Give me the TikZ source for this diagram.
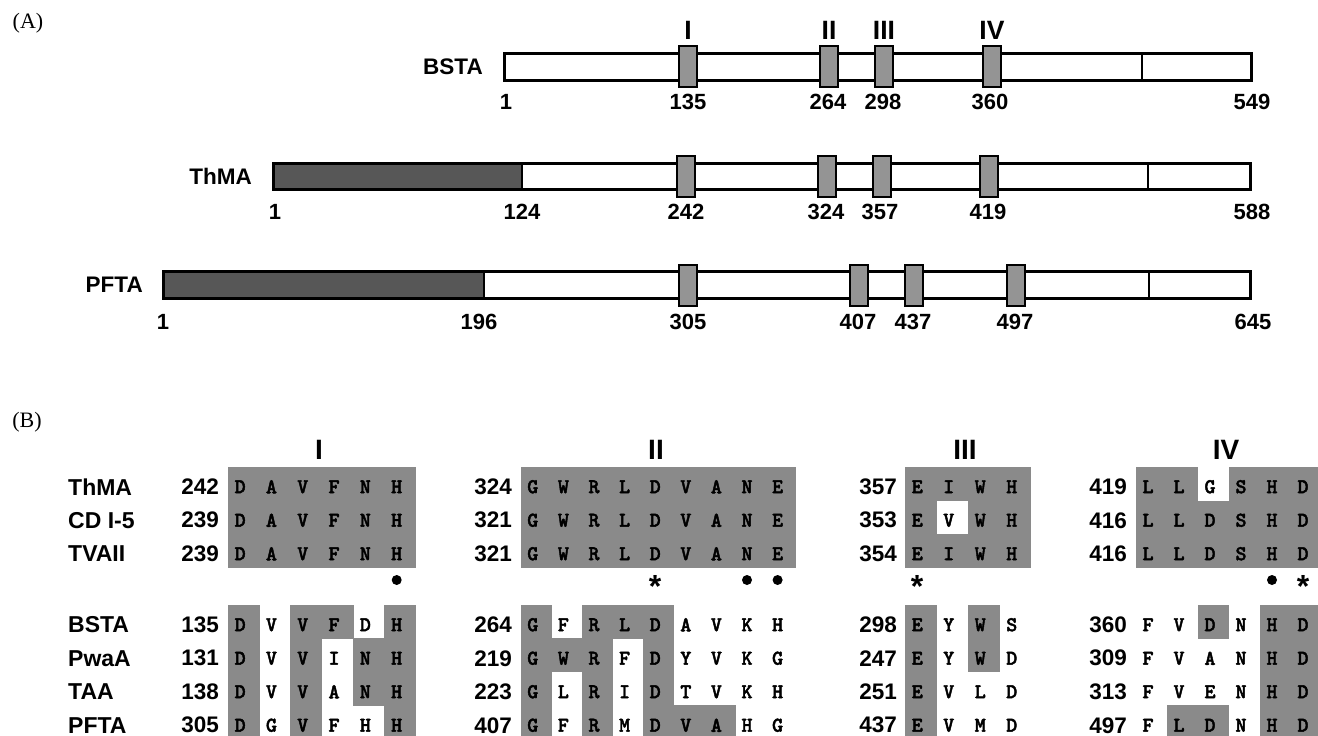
\documentclass[tikz,border=0pt]{standalone}
\usepackage{fontspec}
\setmainfont{Liberation Serif}
\setsansfont{Liberation Sans}
\newfontfamily\resfont{lmmonolt10-bold.otf}[FakeBold=2]
\definecolor{motifgray}{gray}{0.58}
\definecolor{darkfill}{gray}{0.34}
\definecolor{shadegray}{gray}{0.54}
\newcommand\fs[1]{\fontsize{#1}{#1}\selectfont}
% left, top, c1, c2, r1, r2 (uses \cw)
\newcommand\shadecells[6]{%
  \fill[shadegray] ({#1+(#3-1)*\cw-0.3},{#2+(#5-1)*33.5-0.3}) rectangle ({#1+#4*\cw+0.3},{#2+#6*33.5+0.3});}
% left, top, col, row
\newcommand\whitecell[4]{%
  \fill[white] ({#1+(#3-1)*\cw},{#2+(#4-1)*33.5}) rectangle ({#1+#3*\cw},{#2+#4*33.5});}
% name, left, y, letters
\newcommand\resrow[4]{%
  \foreach \rl [count=\rc] in {#4} {\node[res] (#1-\rc) at ({#2+(\rc-0.5)*\cw-3.5},#3) {\rl};}}
\begin{document}
\begin{tikzpicture}[x=1pt,y=-1pt,
 panel/.style={font=\rmfamily\fs{22}, inner sep=0pt},
 nmA/.style={font=\sffamily\bfseries\fs{22.5}, inner sep=0pt, anchor=east},
 labA/.style={font=\sffamily\bfseries\fs{22}, inner sep=0pt},
 romA/.style={font=\sffamily\bfseries\fs{26.5}, inner sep=0pt},
 romB/.style={font=\sffamily\bfseries\fs{28}, inner sep=0pt},
 nmB/.style={font=\sffamily\bfseries\fs{23}, inner sep=0pt, anchor=west},
 numB/.style={font=\sffamily\bfseries\fs{22.5}, inner sep=0pt, anchor=east},
 res/.style={font=\resfont\fs{21}, inner sep=0pt},
 starmark/.style={font=\sffamily\bfseries\fs{32}, inner sep=0pt, anchor=base},
 barfill/.style={fill=white},
 barline/.style={draw, line width=3pt},
 motif/.style={draw, line width=1.8pt, fill=motifgray},
 divline/.style={line width=2.6pt},
]
\useasboundingbox (0,0) rectangle (1318,736);

% ---------------- Part A ----------------
\node[panel] (pA) at (28,23) {(A)};

% BSTA
\node[nmA] (nBSTA) at (483,67) {BSTA};
\fill[barfill] (504.5,53.5) rectangle (1251.5,80.5);
\draw[divline] (1142,53.5) -- (1142,80.5);
\draw[barline] (504.5,53.5) rectangle (1251.5,80.5);
\foreach \x in {688,829,884,992} \draw[motif] (\x-9,46) rectangle (\x+9,87);
\foreach \x/\t [count=\i] in {688/I,829/II,884/III,992/IV} \node[romA] (romA\i) at (\x,30) {\t};
\foreach \x/\t [count=\i] in {506/1,688/135,828/264,883/298,990/360,1252/549} \node[labA] (lBSTA\i) at (\x,102) {\t};

% ThMA
\node[nmA] (nThMA) at (252,176.5) {ThMA};
\fill[barfill] (273.5,163.5) rectangle (1250.5,189.5);
\fill[darkfill] (273.5,163.5) rectangle (522,189.5);
\draw[divline] (522,163.5) -- (522,189.5);
\draw[divline] (1148,163.5) -- (1148,189.5);
\draw[barline] (273.5,163.5) rectangle (1250.5,189.5);
\foreach \x in {686,827,882,989} \draw[motif] (\x-9,156) rectangle (\x+9,197);
\foreach \x/\t [count=\i] in {275/1,522/124,686/242,826/324,880/357,988/419,1252/588} \node[labA] (lThMA\i) at (\x,212) {\t};

% PFTA
\node[nmA] (nPFTA) at (143,285) {PFTA};
\fill[barfill] (163.5,271.5) rectangle (1250.5,298.5);
\fill[darkfill] (163.5,271.5) rectangle (484,298.5);
\draw[divline] (484,271.5) -- (484,298.5);
\draw[divline] (1149,271.5) -- (1149,298.5);
\draw[barline] (163.5,271.5) rectangle (1250.5,298.5);
\foreach \x in {688,859,914,1016} \draw[motif] (\x-9,265) rectangle (\x+9,306);
\foreach \x/\t [count=\i] in {163/1,479/196,688/305,858/407,913/437,1015/497,1253/645} \node[labA] (lPFTA\i) at (\x,322) {\t};

% ---------------- Part B ----------------
\node[panel] (pB) at (27,422) {(B)};

% headers
\node[romB] (hI) at (319,450) {I};
\node[romB] (hII) at (656,450) {II};
\node[romB] (hIII) at (965,450) {III};
\node[romB] (hIV) at (1226,450) {IV};

% row names
\foreach \y/\t [count=\i] in {486.75/ThMA,520.25/CD I-5,553.75/TVAII,624.75/BSTA,658.25/PwaA,691.75/TAA,725.25/PFTA}
  \node[nmB] (rowname\i) at (68,\y) {\t};

% ---- block I ----
\def\cw{31.3}
\fill[shadegray] (228,467) rectangle ({228+6*\cw},567.5);
\shadecells{228}{605}{1}{1}{1}{4}
\shadecells{228}{605}{3}{3}{1}{4}
\shadecells{228}{605}{4}{4}{1}{1}
\shadecells{228}{605}{5}{5}{2}{3}
\shadecells{228}{605}{6}{6}{1}{4}
\foreach \y/\t [count=\i] in {486.75/242,520.25/239,553.75/239,624.75/135,658.25/131,691.75/138,725.25/305}
  \node[numB] (numI\i) at (219,\y) {\t};
\resrow{aI1}{228}{486.75}{D,A,V,F,N,H}
\resrow{aI2}{228}{520.25}{D,A,V,F,N,H}
\resrow{aI3}{228}{553.75}{D,A,V,F,N,H}
\resrow{aI4}{228}{624.75}{D,V,V,F,D,H}
\resrow{aI5}{228}{658.25}{D,V,V,I,N,H}
\resrow{aI6}{228}{691.75}{D,V,V,A,N,H}
\resrow{aI7}{228}{725.25}{D,G,V,F,H,H}
\fill (396.7,580) circle (5);

% ---- block II ----
\def\cw{30.6}
\fill[shadegray] (521,467) rectangle ({521+9*\cw},567.5);
\shadecells{521}{605}{1}{1}{1}{4}
\shadecells{521}{605}{2}{2}{2}{2}
\shadecells{521}{605}{3}{3}{1}{4}
\shadecells{521}{605}{4}{4}{1}{1}
\shadecells{521}{605}{5}{5}{1}{4}
\shadecells{521}{605}{6}{7}{4}{4}
\foreach \y/\t [count=\i] in {486.75/324,520.25/321,553.75/321,624.75/264,658.25/219,691.75/223,725.25/407}
  \node[numB] (numII\i) at (512,\y) {\t};
\resrow{aII1}{521}{486.75}{G,W,R,L,D,V,A,N,E}
\resrow{aII2}{521}{520.25}{G,W,R,L,D,V,A,N,E}
\resrow{aII3}{521}{553.75}{G,W,R,L,D,V,A,N,E}
\resrow{aII4}{521}{624.75}{G,F,R,L,D,A,V,K,H}
\resrow{aII5}{521}{658.25}{G,W,R,F,D,Y,V,K,G}
\resrow{aII6}{521}{691.75}{G,L,R,I,D,T,V,K,H}
\resrow{aII7}{521}{725.25}{G,F,R,M,D,V,A,H,G}
\node[starmark] (stII) at (655.2,597.5) {*};
\fill (747,580) circle (5);
\fill (777.6,580) circle (5);

% ---- block III ----
\def\cw{31.5}
\fill[shadegray] (905,467) rectangle ({905+4*\cw},567.5);
\whitecell{905}{467}{2}{2}
\shadecells{905}{605}{1}{1}{1}{4}
\shadecells{905}{605}{3}{3}{1}{2}
\foreach \y/\t [count=\i] in {486.75/357,520.25/353,553.75/354,624.75/298,658.25/247,691.75/251,725.25/437}
  \node[numB] (numIII\i) at (897,\y) {\t};
\resrow{aIII1}{905}{486.75}{E,I,W,H}
\resrow{aIII2}{905}{520.25}{E,V,W,H}
\resrow{aIII3}{905}{553.75}{E,I,W,H}
\resrow{aIII4}{905}{624.75}{E,Y,W,S}
\resrow{aIII5}{905}{658.25}{E,Y,W,D}
\resrow{aIII6}{905}{691.75}{E,V,L,D}
\resrow{aIII7}{905}{725.25}{E,V,M,D}
\node[starmark] (stIII) at (917,597.5) {*};

% ---- block IV ----
\def\cw{31}
\fill[shadegray] (1136,467) rectangle ({1136+6*\cw},567.5);
\whitecell{1136}{467}{3}{1}
\shadecells{1136}{605}{3}{3}{1}{1}
\shadecells{1136}{605}{2}{3}{4}{4}
\shadecells{1136}{605}{5}{6}{1}{4}
\foreach \y/\t [count=\i] in {486.75/419,520.25/416,553.75/416,624.75/360,658.25/309,691.75/313,725.25/497}
  \node[numB] (numIV\i) at (1127,\y) {\t};
\resrow{aIV1}{1136}{486.75}{L,L,G,S,H,D}
\resrow{aIV2}{1136}{520.25}{L,L,D,S,H,D}
\resrow{aIV3}{1136}{553.75}{L,L,D,S,H,D}
\resrow{aIV4}{1136}{624.75}{F,V,D,N,H,D}
\resrow{aIV5}{1136}{658.25}{F,V,A,N,H,D}
\resrow{aIV6}{1136}{691.75}{F,V,E,N,H,D}
\resrow{aIV7}{1136}{725.25}{F,L,D,N,H,D}
\fill (1272,580) circle (5);
\node[starmark] (stIV) at (1303,597.5) {*};
\end{tikzpicture}
\end{document}
